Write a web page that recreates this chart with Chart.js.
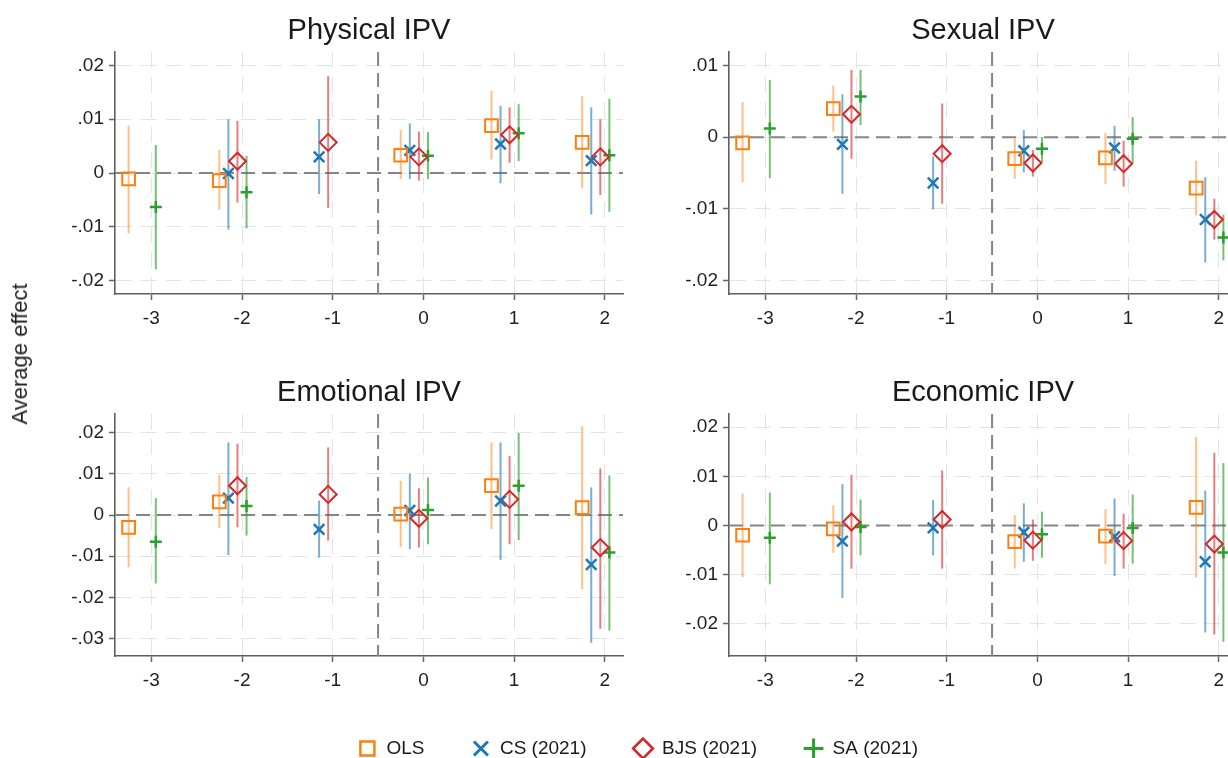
<!DOCTYPE html>
<html lang="en">
<head>
  <meta charset="UTF-8" />
  <title>IPV event study</title>
  <style>
    * { margin: 0; padding: 0; box-sizing: border-box; }
    body { width: 1228px; height: 758px; overflow: hidden; background: #fff; position: relative;
           font-family: "Liberation Sans", Arial, sans-serif; }
    canvas { position: absolute; }
    .ytitle { position: absolute; left: 20px; top: 354px; transform: translate(-50%, -50%) rotate(-90deg);
              font-size: 22px; color: #222; white-space: nowrap; }
  </style>
</head>
<body>
  <canvas id="physical" width="738" height="336" style="left:0;top:0"></canvas>
  <canvas id="sexual" width="738" height="336" style="left:614px;top:0"></canvas>
  <canvas id="emotional" width="738" height="336" style="left:0;top:362px"></canvas>
  <canvas id="economic" width="738" height="336" style="left:614px;top:362px"></canvas>
  <canvas id="legend" width="1280" height="200" style="left:-2px;top:692px"></canvas>
  <div class="ytitle">Average effect</div>

  <script src="https://cdn.jsdelivr.net/npm/chart.js"></script>
  <script>
    // event time (years relative to treatment)
    const periods = [-3, -2, -1, 0, 1, 2];
    const methods = ['OLS', 'CS (2021)', 'BJS (2021)', 'SA (2021)'];

    // ---- Physical IPV ----
    const physicalOLS = [-0.0011, -0.0014, null, 0.0033, 0.0088, 0.0057];
    const physicalOLSci = [[-0.0112, 0.0088], [-0.0068, 0.0043], null, [-0.0011, 0.0080], [0.0025, 0.0153], [-0.0028, 0.0143]];
    const physicalCS = [null, -0.0001, 0.0030, 0.0042, 0.0054, 0.0023];
    const physicalCSci = [null, [-0.0105, 0.0100], [-0.0039, 0.0100], [-0.0011, 0.0092], [-0.0019, 0.0125], [-0.0077, 0.0122]];
    const physicalBJS = [null, 0.0022, 0.0057, 0.0030, 0.0071, 0.0030];
    const physicalBJSci = [null, [-0.0055, 0.0097], [-0.0065, 0.0180], [-0.0014, 0.0077], [0.0019, 0.0122], [-0.0041, 0.0100]];
    const physicalSA = [-0.0063, -0.0036, null, 0.0032, 0.0074, 0.0033];
    const physicalSAci = [[-0.0179, 0.0052], [-0.0103, 0.0032], null, [-0.0011, 0.0076], [0.0022, 0.0128], [-0.0072, 0.0138]];

    // ---- Sexual IPV ----
    const sexualOLS = [-0.0008, 0.0040, null, -0.0030, -0.0029, -0.0071];
    const sexualOLSci = [[-0.0063, 0.0049], [0.0008, 0.0072], null, [-0.0058, -0.0002], [-0.0065, 0.0006], [-0.0109, -0.0033]];
    const sexualCS = [null, -0.0010, -0.0064, -0.0019, -0.0015, -0.0115];
    const sexualCSci = [null, [-0.0079, 0.0060], [-0.0101, -0.0027], [-0.0049, 0.0010], [-0.0047, 0.0016], [-0.0175, -0.0056]];
    const sexualBJS = [null, 0.0032, -0.0023, -0.0036, -0.0037, -0.0115];
    const sexualBJSci = [null, [-0.0030, 0.0094], [-0.0093, 0.0047], [-0.0055, -0.0018], [-0.0069, -0.0005], [-0.0143, -0.0086]];
    const sexualSA = [0.0012, 0.0057, null, -0.0016, -0.0002, -0.0140];
    const sexualSAci = [[-0.0057, 0.0080], [0.0017, 0.0094], null, [-0.0035, 0.0000], [-0.0036, 0.0028], [-0.0172, -0.0108]];

    // ---- Emotional IPV ----
    const emotionalOLS = [-0.0030, 0.0032, null, 0.0002, 0.0071, 0.0018];
    const emotionalOLSci = [[-0.0127, 0.0067], [-0.0032, 0.0097], null, [-0.0077, 0.0083], [-0.0034, 0.0176], [-0.0180, 0.0215]];
    const emotionalCS = [null, 0.0041, -0.0035, 0.0011, 0.0034, -0.0120];
    const emotionalCSci = [null, [-0.0097, 0.0176], [-0.0103, 0.0035], [-0.0083, 0.0101], [-0.0109, 0.0176], [-0.0310, 0.0067]];
    const emotionalBJS = [null, 0.0071, 0.0050, -0.0008, 0.0038, -0.0079];
    const emotionalBJSci = [null, [-0.0030, 0.0173], [-0.0062, 0.0164], [-0.0079, 0.0065], [-0.0071, 0.0143], [-0.0276, 0.0113]];
    const emotionalSA = [-0.0065, 0.0022, null, 0.0012, 0.0071, -0.0091];
    const emotionalSAci = [[-0.0166, 0.0041], [-0.0050, 0.0092], null, [-0.0071, 0.0091], [-0.0061, 0.0199], [-0.0280, 0.0096]];

    // ---- Economic IPV ----
    const economicOLS = [-0.0020, -0.0007, null, -0.0033, -0.0022, 0.0037];
    const economicOLSci = [[-0.0105, 0.0065], [-0.0056, 0.0041], null, [-0.0088, 0.0021], [-0.0078, 0.0033], [-0.0106, 0.0180]];
    const economicCS = [null, -0.0032, -0.0005, -0.0014, -0.0023, -0.0074];
    const economicCSci = [null, [-0.0148, 0.0084], [-0.0061, 0.0052], [-0.0074, 0.0045], [-0.0103, 0.0055], [-0.0218, 0.0071]];
    const economicBJS = [null, 0.0007, 0.0012, -0.0030, -0.0031, -0.0038];
    const economicBJSci = [null, [-0.0088, 0.0103], [-0.0088, 0.0112], [-0.0072, 0.0012], [-0.0088, 0.0024], [-0.0222, 0.0148]];
    const economicSA = [-0.0025, -0.0003, null, -0.0018, -0.0005, -0.0055];
    const economicSAci = [[-0.0120, 0.0067], [-0.0061, 0.0053], null, [-0.0066, 0.0028], [-0.0078, 0.0063], [-0.0237, 0.0127]];

    // y axis ticks
    const ticksPhysical = [-0.02, -0.01, 0, 0.01, 0.02];
    const ticksSexual = [-0.02, -0.01, 0, 0.01];
    const ticksEmotional = [-0.03, -0.02, -0.01, 0, 0.01, 0.02];
    const ticksEconomic = [-0.02, -0.01, 0, 0.01, 0.02];

    // styling
    const colors = ['#ff7f0e', '#1f77b4', '#d62728', '#2ca02c'];
    const ciColors = ['rgba(255,127,14,0.5)', 'rgba(31,119,180,0.6)', 'rgba(214,39,40,0.6)', 'rgba(44,160,44,0.65)'];
    const shapes = ['rect', 'crossRot', 'rectRot', 'cross'];
    const radii = [9, 7.5, 8.5, 6];
    const widths = [2, 2.5, 2, 2.5];
    const dodge = [-0.25, -0.15, -0.05, 0.05];   // horizontal shift of each estimator
    const FONT = '"Liberation Sans", Arial, sans-serif';

    function fmt(v) {
      if (Math.abs(v) < 1e-9) return '0';
      return (v < 0 ? '-' : '') + Math.abs(v).toFixed(2).replace(/^0/, '');
    }

    // zero line, treatment line and confidence intervals
    const refLines = {
      id: 'refLines',
      beforeDatasetsDraw(chart) {
        const { ctx, chartArea: a, scales: { x, y } } = chart;
        ctx.save();
        ctx.strokeStyle = '#858585';
        ctx.lineWidth = 2;
        ctx.setLineDash([14, 7]);
        const y0 = y.getPixelForValue(0);
        ctx.beginPath(); ctx.moveTo(a.left, y0); ctx.lineTo(a.right, y0); ctx.stroke();
        const xt = x.getPixelForValue(-0.5);
        ctx.beginPath(); ctx.moveTo(xt, a.top); ctx.lineTo(xt, a.bottom); ctx.stroke();
        ctx.setLineDash([]);
        ctx.lineWidth = 2;
        chart.data.datasets.forEach((ds, k) => {
          ctx.strokeStyle = ciColors[k];
          ds.data.forEach(d => {
            const px = x.getPixelForValue(d.x);
            ctx.beginPath();
            ctx.moveTo(px, y.getPixelForValue(d.lo));
            ctx.lineTo(px, y.getPixelForValue(d.hi));
            ctx.stroke();
          });
        });
        ctx.restore();
      }
    };

    // panel title centred over the plot region
    const panelTitle = {
      id: 'panelTitle',
      afterDraw(chart, args, opts) {
        const { ctx, chartArea: a } = chart;
        ctx.save();
        ctx.font = '29px ' + FONT;
        ctx.fillStyle = '#1a1a1a';
        ctx.textAlign = 'center';
        ctx.textBaseline = 'middle';
        ctx.fillText(opts.text, (a.left + a.right) / 2, 31);
        ctx.restore();
      }
    };

    function makeDatasets(est, ci) {
      return methods.map((m, k) => ({
        label: m,
        data: periods
          .map((p, j) => est[k][j] === null ? null : { x: p + dodge[k], y: est[k][j], lo: ci[k][j][0], hi: ci[k][j][1] })
          .filter(d => d !== null),
        pointStyle: shapes[k],
        pointRadius: radii[k],
        borderColor: colors[k],
        backgroundColor: 'rgba(0,0,0,0)',
        borderWidth: widths[k],
        showLine: false
      }));
    }

    function makePanel(id, title, est, ci, ymin, ymax, yticks) {
      new Chart(document.getElementById(id), {
        type: 'scatter',
        data: { datasets: makeDatasets(est, ci) },
        options: {
          responsive: false,
          animation: false,
          events: [],
          layout: { padding: { left: 0, right: 115, top: 52, bottom: 0 } },
          plugins: {
            legend: { display: false },
            tooltip: { enabled: false },
            panelTitle: { text: title }
          },
          scales: {
            x: {
              type: 'linear', min: -3.4, max: 2.2,
              afterBuildTicks: s => { s.ticks = periods.map(v => ({ value: v })); },
              afterFit: s => { s.height = 42; },
              ticks: { color: '#222', font: { family: FONT, size: 19 }, padding: 7, callback: v => String(v) },
              grid: { color: '#e4e4e4', lineWidth: 1, tickLength: 6, tickColor: '#666', tickWidth: 1.5, tickBorderDash: [] },
              border: { display: true, color: '#5f5f5f', width: 1.6, dash: [16, 9] }
            },
            y: {
              min: ymin, max: ymax,
              afterBuildTicks: s => { s.ticks = yticks.map(v => ({ value: v })); },
              afterFit: s => { s.width = 115; },
              ticks: { color: '#222', font: { family: FONT, size: 19 }, padding: 5, callback: v => fmt(v) },
              grid: { color: '#e4e4e4', lineWidth: 1, tickLength: 6, tickColor: '#666', tickWidth: 1.5, tickBorderDash: [] },
              border: { display: true, color: '#5f5f5f', width: 1.6, dash: [16, 9] }
            }
          }
        },
        plugins: [refLines, panelTitle]
      });
    }

    makePanel('physical', 'Physical IPV',
      [physicalOLS, physicalCS, physicalBJS, physicalSA],
      [physicalOLSci, physicalCSci, physicalBJSci, physicalSAci],
      -0.0225, 0.0225, ticksPhysical);
    makePanel('sexual', 'Sexual IPV',
      [sexualOLS, sexualCS, sexualBJS, sexualSA],
      [sexualOLSci, sexualCSci, sexualBJSci, sexualSAci],
      -0.0219, 0.0119, ticksSexual);
    makePanel('emotional', 'Emotional IPV',
      [emotionalOLS, emotionalCS, emotionalBJS, emotionalSA],
      [emotionalOLSci, emotionalCSci, emotionalBJSci, emotionalSAci],
      -0.0342, 0.0245, ticksEmotional);
    makePanel('economic', 'Economic IPV',
      [economicOLS, economicCS, economicBJS, economicSA],
      [economicOLSci, economicCSci, economicBJSci, economicSAci],
      -0.0266, 0.0227, ticksEconomic);

    // shared legend
    new Chart(document.getElementById('legend'), {
      type: 'scatter',
      data: {
        datasets: methods.map((m, k) => ({
          label: m, data: [], pointStyle: shapes[k], borderColor: colors[k],
          backgroundColor: 'rgba(0,0,0,0)', borderWidth: widths[k] + 0.5
        }))
      },
      options: {
        responsive: false,
        animation: false,
        events: [],
        scales: { x: { display: false }, y: { display: false } },
        plugins: {
          tooltip: { enabled: false },
          legend: {
            display: true, position: 'top',
            labels: {
              usePointStyle: true, boxHeight: 14, padding: 47, color: '#1a1a1a',
              font: { family: FONT, size: 19 }
            }
          }
        }
      }
    });
  </script>
</body>
</html>
